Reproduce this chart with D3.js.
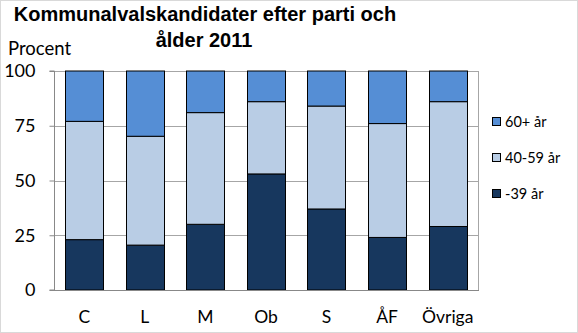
<!DOCTYPE html>
<html>
<head>
<meta charset="utf-8">
<script src="https://cdn.jsdelivr.net/npm/d3@7"></script>
<style>
  html, body { margin: 0; padding: 0; background: #fff; }
  svg { display: block; }
</style>
</head>
<body>
<svg id="chart" width="578" height="333"></svg>
<script>
// Parties and age-group shares (percent)
const categories = ["C", "L", "M", "Ob", "S", "ÅF", "Övriga"];
const under40 = [23, 20.5, 30, 53, 37, 24, 29];
const age40to59 = [54, 49.7, 51, 33, 47, 52, 57];
const over60 = [23, 29.8, 19, 14, 16, 24, 14];
const seriesNames = ["-39 år", "40-59 år", "60+ år"];
const yTicks = [0, 25, 50, 75, 100];

const colors = { "-39 år": "#17375E", "40-59 år": "#B9CDE5", "60+ år": "#558ED5" };

const rows = categories.map((c, i) => ({
  cat: c,
  "-39 år": under40[i],
  "40-59 år": age40to59[i],
  "60+ år": over60[i]
}));

const svg = d3.select("#chart");
const W = 578, H = 333;
const plot = { left: 54, right: 478, top: 71, bottom: 290 };
const font = "Lato, 'Open Sans', sans-serif";
const titleFont = "Arial, 'Liberation Sans', sans-serif";

// outer frame
svg.append("rect").attr("x", 0.5).attr("y", 0.5).attr("width", W - 1).attr("height", H - 1)
  .attr("fill", "#fff").attr("stroke", "#D9D9D9");

const x = d3.scaleBand().domain(categories).range([plot.left, plot.right]).paddingInner(0.37).paddingOuter(0.185);
const y = d3.scaleLinear().domain([0, 100]).range([plot.bottom, plot.top]);

// gridlines
svg.append("g").selectAll("line").data(yTicks.filter(t => t > 0)).join("line")
  .attr("x1", plot.left).attr("x2", plot.right)
  .attr("y1", d => Math.round(y(d)) + 0.5).attr("y2", d => Math.round(y(d)) + 0.5)
  .attr("stroke", "#A6A6A6").attr("stroke-width", 1);

// right border of plot area
svg.append("line").attr("x1", plot.right + 0.5).attr("x2", plot.right + 0.5)
  .attr("y1", plot.top).attr("y2", plot.bottom).attr("stroke", "#A6A6A6");

// stacked bars
const stack = d3.stack().keys(seriesNames)(rows);
svg.append("g").selectAll("g").data(stack).join("g")
  .attr("fill", d => colors[d.key])
  .selectAll("rect").data(d => d).join("rect")
  .attr("x", d => Math.round(x(d.data.cat)) + 0.5)
  .attr("width", Math.round(x.bandwidth()))
  .attr("y", d => y(d[1]))
  .attr("height", d => y(d[0]) - y(d[1]))
  .attr("stroke", "#000").attr("stroke-width", 1);

// y axis
const yAxis = d3.axisLeft(y).tickValues(yTicks).tickSize(5).tickPadding(14);
const gy = svg.append("g").attr("transform", `translate(${plot.left + 0.5},0)`).call(yAxis);
gy.select(".domain").attr("stroke", "#888").attr("d", `M-5,${plot.top}H0V${plot.bottom}H-5`);
gy.selectAll(".tick line").attr("stroke", "#888");
gy.selectAll(".tick text").attr("font-family", font).attr("font-size", 18).attr("fill", "#000");

// x axis
const xAxis = d3.axisBottom(x).tickSize(0).tickPadding(20);
const gx = svg.append("g").attr("transform", `translate(0,${plot.bottom + 0.5})`).call(xAxis);
gx.select(".domain").attr("stroke", "#888").attr("d", `M${plot.left},0H${plot.right + 1}`);
gx.selectAll(".tick text").attr("font-family", font).attr("font-size", 17.5).attr("fill", "#000");

// title (two centred lines)
svg.append("text").attr("x", 205).attr("y", 21).attr("text-anchor", "middle")
  .attr("font-family", titleFont).attr("font-weight", "bold").attr("font-size", 20)
  .text("Kommunalvalskandidater efter parti och");
svg.append("text").attr("x", 204).attr("y", 47).attr("text-anchor", "middle")
  .attr("font-family", titleFont).attr("font-weight", "bold").attr("font-size", 20)
  .text("ålder 2011");

// axis unit label
svg.append("text").attr("x", 8).attr("y", 55)
  .attr("font-family", font).attr("font-size", 18.5).text("Procent");

// legend
const legendItems = ["60+ år", "40-59 år", "-39 år"];
const lg = svg.append("g").selectAll("g").data(legendItems).join("g")
  .attr("transform", (d, i) => `translate(492,${117 + i * 36})`);
lg.append("rect").attr("x", 0.5).attr("y", 0.5).attr("width", 8).attr("height", 8)
  .attr("fill", d => colors[d]).attr("stroke", "#000");
lg.append("text").attr("x", 13).attr("y", 9.5)
  .attr("font-family", font).attr("font-size", 14.5).text(d => d);
</script>
</body>
</html>
